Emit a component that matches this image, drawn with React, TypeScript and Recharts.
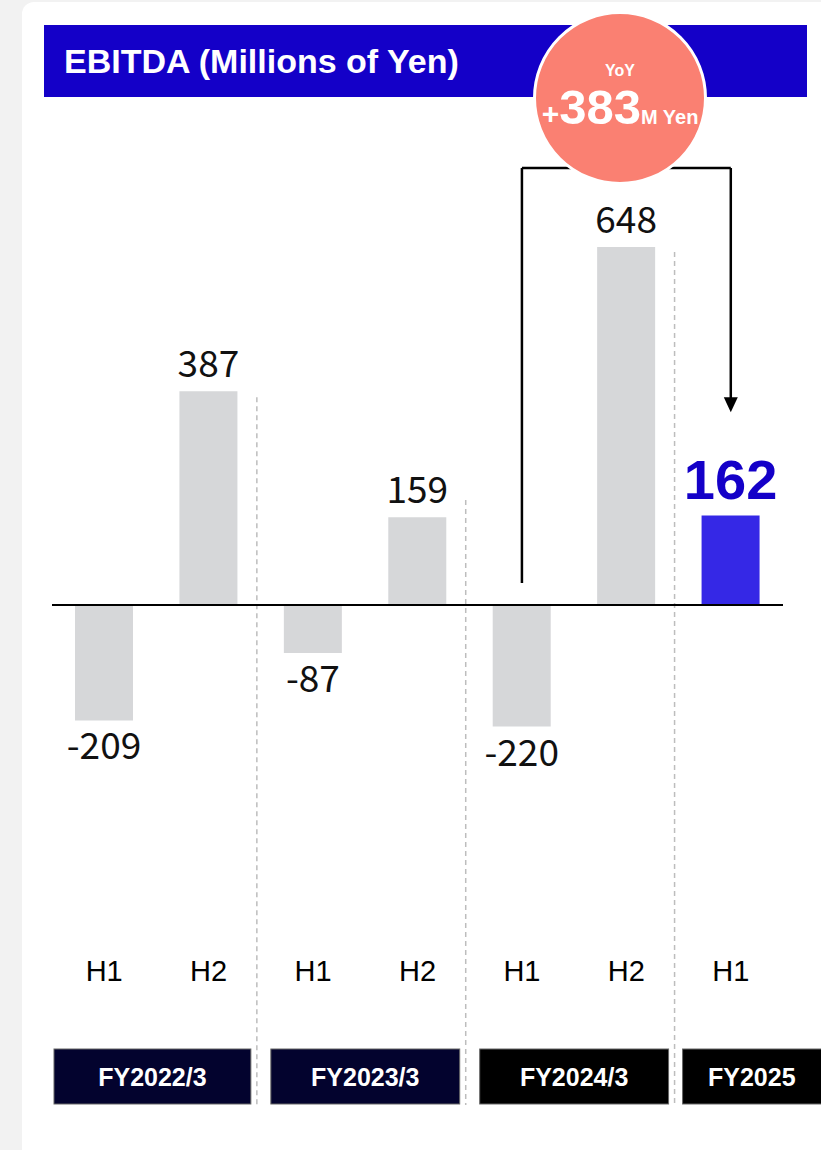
import React from "react";
import { BarChart, Bar, XAxis, YAxis, ReferenceLine, LabelList, Cell } from "recharts";

// EBITDA by half-year, millions of yen
const halves = ["H1", "H2", "H1", "H2", "H1", "H2", "H1"];
const fiscalYears = ["FY2022/3", "FY2022/3", "FY2023/3", "FY2023/3", "FY2024/3", "FY2024/3", "FY2025"];
const ebitda = [-209, 387, -87, 159, -220, 648, 162];
const yoyChange = 383;
const yDomain = [-400, 800];

// bracket from FY2024/3 H1 to FY2025 H1
const bracketBase = 40;
const bracketTop = 791;
const arrowTip = 349;

// dashed dividers between fiscal years (top end in value units)
const dividerTops = [376, 190, 639];
const dividerBottom = -905;

const rows = halves.map((half, i) => ({
  id: `${fiscalYears[i]} ${half}`,
  half,
  fy: fiscalYears[i],
  value: ebitda[i],
}));
const latest = rows.length - 1;
const lastOfYear = rows.filter((r, i) => i < latest && rows[i + 1].fy !== r.fy);

const fyFill: Record<string, string> = {
  "FY2022/3": "#03032e",
  "FY2023/3": "#03032e",
  "FY2024/3": "#000000",
  "FY2025": "#000000",
};

const ARIAL = "'Liberation Sans', Arial, sans-serif";

const PeriodTick = (props: any) => {
  const { x, y, payload } = props;
  const i = props.index ?? payload.index;
  const row = rows[i];
  const half = payload.offset || 52;
  const first = i === 0 || rows[i - 1].fy !== row.fy;
  let box = null;
  if (first) {
    const span = rows.filter((r) => r.fy === row.fy).length;
    const left = x - half + (i === 0 ? 2 : i === latest ? 4 : 10);
    const right = i === latest ? 830 : x - half + span * 2 * half - 10;
    const textX = (left + Math.min(right, 821)) / 2;
    box = (
      <g>
        <rect x={left} y={y + 223} width={right - left} height={55} fill={fyFill[row.fy]} stroke="#666" strokeWidth={1} />
        <text x={textX} y={y + 260} textAnchor="middle" fontSize={25} fontWeight={700} fontFamily={ARIAL} fill="#fff">
          {row.fy}
        </text>
      </g>
    );
  }
  return (
    <g>
      <text x={x} y={y + 155} textAnchor="middle" fontSize={29} fontFamily={ARIAL} fill="#000">
        {row.half}
      </text>
      {box}
    </g>
  );
};

const ValueLabel = (props: any) => {
  const { x, y, width, height, value, index } = props;
  const top = Math.min(y, y + height);
  const bottom = Math.max(y, y + height);
  const cx = x + width / 2;
  if (index === latest) {
    return (
      <text x={cx} y={top - 16} textAnchor="middle" fontSize={56} fontWeight={700} fontFamily={ARIAL} fill="#1400c8">
        {value}
      </text>
    );
  }
  return (
    <text
      x={cx}
      y={value < 0 ? bottom + 39 : top - 14}
      textAnchor="middle"
      fontSize={37}
      fontFamily="'Noto Sans CJK JP', 'Noto Sans', sans-serif"
      fill="#111"
    >
      {value}
    </text>
  );
};

const ArrowLine = (props: any) => {
  const { x1, y1, x2, y2 } = props;
  const dir = y2 > y1 ? 1 : -1;
  return (
    <g>
      <line x1={x1} y1={y1} x2={x2} y2={y2 - dir * 12} stroke="#000" strokeWidth={2.5} />
      <polygon points={`${x2 - 7},${y2 - dir * 15} ${x2 + 7},${y2 - dir * 15} ${x2},${y2}`} fill="#000" />
    </g>
  );
};

// dividers sit a few pixels left of the band edge
const Divider = (props: any) => {
  const { x1, y1, x2, y2 } = props;
  return <line x1={x1 - 4} y1={y1} x2={x2 - 4} y2={y2} stroke="#bdbdbd" strokeWidth={1.5} strokeDasharray="5 4" />;
};

export default function App() {
  const from = rows[latest - 2].id;
  const to = rows[latest].id;
  return (
    <div style={{ position: "absolute", top: 0, left: 0, width: 821, height: 1150, overflow: "hidden", background: "#f2f2f2" }}>
      <div style={{ position: "absolute", left: 22, top: 2, width: 830, height: 1170, background: "#fff", borderRadius: 12 }} />
      <div
        style={{
          position: "absolute",
          left: 44,
          top: 25,
          width: 763,
          height: 72,
          background: "#1400c8",
          color: "#fff",
          fontFamily: ARIAL,
          fontWeight: 700,
          fontSize: 34,
          lineHeight: "72px",
          paddingLeft: 20,
          boxSizing: "border-box",
        }}
      >
        EBITDA (Millions of Yen)
      </div>

      <div style={{ position: "absolute", left: 0, top: 0 }}>
        <BarChart width={821} height={1150} data={rows} margin={{ top: 163, right: 38, bottom: 294, left: 52 }}>
          <XAxis dataKey="id" interval={0} axisLine={false} tickLine={false} tickSize={0} tickMargin={0} height={30} tick={<PeriodTick />} />
          <YAxis hide width={0} domain={yDomain} />
          {dividerTops.map((top, k) => (
            <ReferenceLine
              key={k}
              segment={[
                { x: lastOfYear[k].id, y: top },
                { x: lastOfYear[k].id, y: dividerBottom },
              ]}
              position="end"
              ifOverflow="visible"
              shape={<Divider />}
            />
          ))}
          <Bar dataKey="value" barSize={58} isAnimationActive={false}>
            {rows.map((r, i) => (
              <Cell key={r.id} fill={i === latest ? "#3528e6" : "#d6d7d9"} />
            ))}
            <LabelList dataKey="value" content={<ValueLabel />} />
          </Bar>
          <ReferenceLine y={0} stroke="#000" strokeWidth={2} />
          <ReferenceLine
            segment={[
              { x: from, y: bracketBase },
              { x: from, y: bracketTop },
            ]}
            ifOverflow="visible"
            stroke="#000"
            strokeWidth={2.5}
          />
          <ReferenceLine
            segment={[
              { x: from, y: bracketTop },
              { x: to, y: bracketTop },
            ]}
            ifOverflow="visible"
            stroke="#000"
            strokeWidth={2.5}
          />
          <ReferenceLine
            segment={[
              { x: to, y: bracketTop },
              { x: to, y: arrowTip },
            ]}
            ifOverflow="visible"
            shape={<ArrowLine />}
          />
        </BarChart>
      </div>

      <div
        style={{
          position: "absolute",
          left: 533,
          top: 11,
          width: 174,
          height: 174,
          borderRadius: "50%",
          border: "3px solid #fff",
          boxSizing: "border-box",
          background: "#fa8072",
          color: "#fff",
          fontFamily: ARIAL,
          fontWeight: 700,
          textAlign: "center",
        }}
      >
        <div style={{ fontSize: 16, marginTop: 48, lineHeight: "18px" }}>YoY</div>
        <div style={{ whiteSpace: "nowrap", lineHeight: "50px", marginTop: 2 }}>
          <span style={{ fontSize: 30 }}>+</span>
          <span style={{ fontSize: 49 }}>{yoyChange}</span>
          <span style={{ fontSize: 20 }}>M Yen</span>
        </div>
      </div>
    </div>
  );
}
